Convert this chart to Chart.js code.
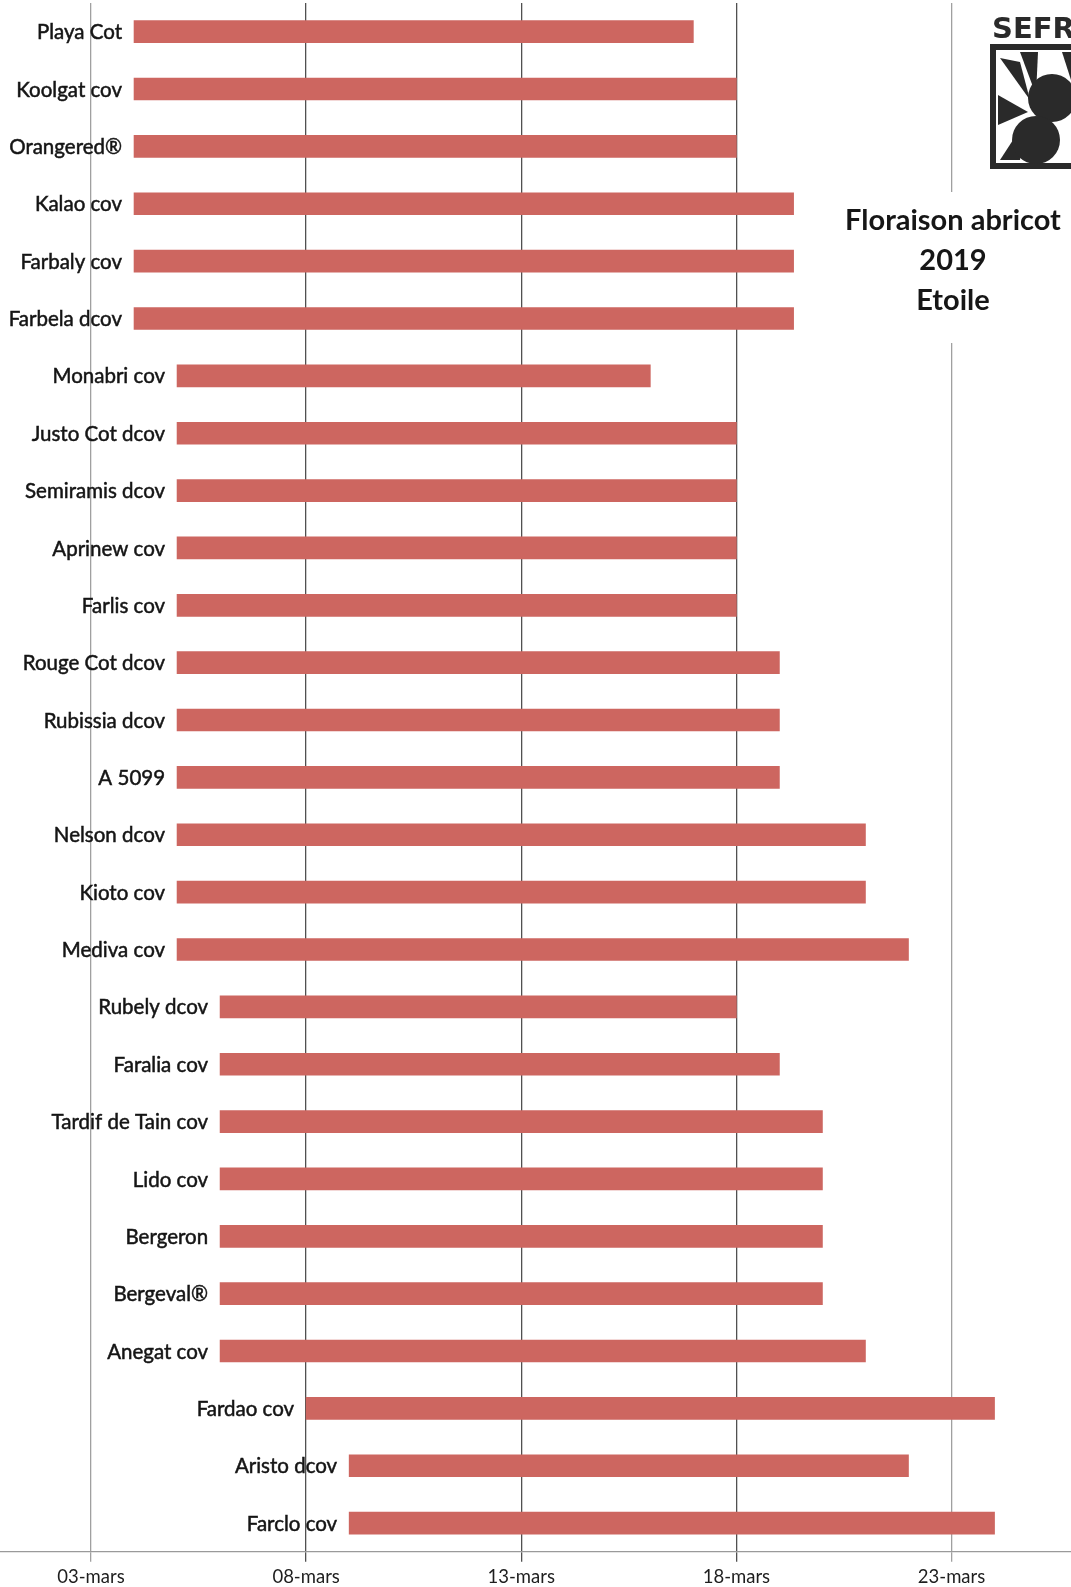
<!DOCTYPE html>
<html>
<head>
<meta charset="utf-8">
<script src="https://cdn.jsdelivr.net/npm/chart.js@4.4.1/dist/chart.umd.min.js"></script>
<style>
  html, body { margin: 0; padding: 0; background: #fff; overflow: hidden; }
  canvas { display: block; }
</style>
</head>
<body>
<canvas id="floraisonChart" width="1071" height="1592" style="width:1071px;height:1592px"></canvas>
<script>
// Varietes (de haut en bas)
const varieties = ['Playa Cot', 'Koolgat cov', 'Orangered®', 'Kalao cov', 'Farbaly cov', 'Farbela dcov',
    'Monabri cov', 'Justo Cot dcov', 'Semiramis dcov', 'Aprinew cov', 'Farlis cov', 'Rouge Cot dcov',
    'Rubissia dcov', 'A 5099', 'Nelson dcov', 'Kioto cov', 'Mediva cov', 'Rubely dcov', 'Faralia cov',
    'Tardif de Tain cov', 'Lido cov', 'Bergeron', 'Bergeval®', 'Anegat cov', 'Fardao cov', 'Aristo dcov', 'Farclo cov'];

// Debut / fin de floraison, jour de mars
const startDay = [4, 4, 4, 4, 4, 4,
    5, 5, 5, 5, 5, 5, 5, 5, 5, 5, 5,
    6, 6, 6, 6, 6, 6, 6,
    8, 9, 9];
const endDay = [17, 18, 18, 19.33, 19.33, 19.33,
    16, 18, 18, 18, 18, 19, 19, 19, 21, 21, 22,
    18, 19, 20, 20, 20, 20, 21,
    24, 22, 24];

const tickDays = [3, 8, 13, 18, 23];
const tickLabels = ['03-mars', '08-mars', '13-mars', '18-mars', '23-mars'];

const titleLines = ['Floraison abricot', '2019', 'Etoile'];

document.addEventListener('DOMContentLoaded', function() {
    const ctx = document.getElementById('floraisonChart').getContext('2d');

    // Etiquettes a gauche de chaque barre
    const barLabels = {
        id: 'barLabels',
        afterDatasetsDraw(chart) {
            const c = chart.ctx;
            const meta = chart.getDatasetMeta(0);
            c.save();
            c.font = '20.5px Lato';
            c.fillStyle = '#151515';
            c.strokeStyle = '#151515';
            c.lineWidth = 0.5;
            c.textAlign = 'right';
            c.textBaseline = 'middle';
            meta.data.forEach(function(bar, i) {
                const left = Math.min(bar.base, bar.x);
                c.fillText(varieties[i], left - 12, bar.y + 1);
                c.strokeText(varieties[i], left - 12, bar.y + 1);
            });
            c.restore();
        }
    };

    // Titre + logo en haut a droite
    const titleBlock = {
        id: 'titleBlock',
        afterDraw(chart) {
            const c = chart.ctx;
            c.save();
            c.fillStyle = '#fff';
            c.fillRect(835, 192, 236, 151);
            c.fillStyle = '#161616';
            c.font = 'bold 29px Lato';
            c.textAlign = 'center';
            c.textBaseline = 'middle';
            titleLines.forEach(function(t, i) {
                c.fillText(t, 953, 221 + i * 40);
            });

            // logo
            c.fillStyle = '#fff';
            c.fillRect(975, 5, 96, 170);
            c.fillStyle = '#2a2a2a';
            c.font = '900 29px "DejaVu Sans"';
            c.textAlign = 'left';
            c.textBaseline = 'alphabetic';
            c.fillText('SEFRA', 992, 38);
            c.fillRect(990, 44, 90, 125);
            c.fillStyle = '#fff';
            c.fillRect(996, 50, 80, 113);
            c.fillStyle = '#2a2a2a';
            // feuilles
            c.beginPath();
            c.moveTo(1000, 58); c.lineTo(1030, 100); c.lineTo(1020, 62); c.closePath(); c.fill();
            c.beginPath();
            c.moveTo(1020, 52); c.lineTo(1036, 95); c.lineTo(1038, 52); c.closePath(); c.fill();
            c.beginPath();
            c.moveTo(998, 95); c.lineTo(1028, 112); c.lineTo(998, 125); c.closePath(); c.fill();
            c.beginPath();
            c.moveTo(1000, 160); c.lineTo(1026, 120); c.lineTo(1020, 160); c.closePath(); c.fill();
            c.beginPath();
            c.moveTo(1062, 52); c.lineTo(1071, 52); c.lineTo(1071, 80); c.closePath(); c.fill();
            // abricots
            c.beginPath(); c.arc(1052, 98, 24, 0, Math.PI * 2); c.fill();
            c.beginPath(); c.arc(1036, 140, 24, 0, Math.PI * 2); c.fill();
            c.restore();
        }
    };

    new Chart(ctx, {
        type: 'bar',
        data: {
            labels: varieties,
            datasets: [{
                data: varieties.map(function(v, i) { return [startDay[i], endDay[i]]; }),
                backgroundColor: '#CD6660',
                borderWidth: 0,
                barThickness: 22
            }]
        },
        options: {
            indexAxis: 'y',
            responsive: false,
            animation: false,
            devicePixelRatio: 1,
            layout: { padding: { top: 3, left: 0, right: 0, bottom: 0 } },
            plugins: { legend: { display: false }, tooltip: { enabled: false } },
            scales: {
                x: {
                    type: 'linear',
                    min: 0.885,
                    max: 25.777,
                    afterBuildTicks: function(axis) {
                        axis.ticks = tickDays.map(function(d) { return { value: d }; });
                    },
                    ticks: {
                        autoSkip: false,
                        maxRotation: 0,
                        padding: 4,
                        color: '#1e1e1e',
                        font: { family: 'Lato', size: 18.5 },
                        callback: function(value) {
                            return tickLabels[tickDays.indexOf(value)];
                        }
                    },
                    grid: {
                        color: function(c) {
                            const v = c.tick ? c.tick.value : 0;
                            return (v === 3 || v === 23) ? '#a0a0a0' : '#505050';
                        },
                        lineWidth: 1.3,
                        tickLength: 10
                    },
                    border: { color: '#9a9a9a', width: 1.3 }
                },
                y: {
                    display: false,
                    grid: { display: false }
                }
            }
        },
        plugins: [barLabels, titleBlock]
    });
});
</script>
</body>
</html>
